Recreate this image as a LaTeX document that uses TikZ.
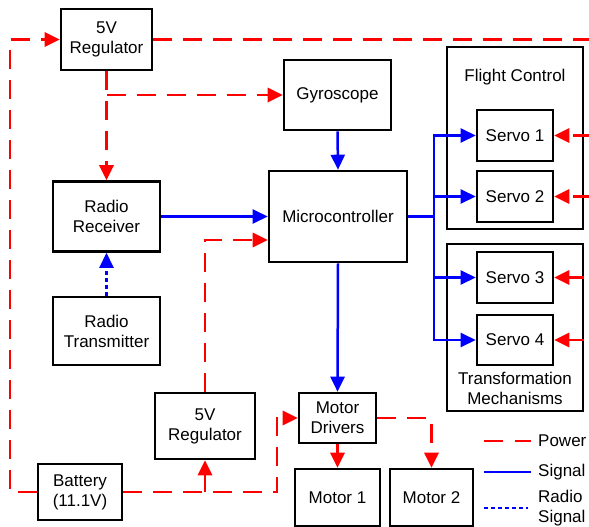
\documentclass[tikz,border=0pt]{standalone}
\usepackage{fontspec}
\setmainfont{Liberation Sans}
\usetikzlibrary{arrows.meta,calc}
\definecolor{pwred}{RGB}{255,0,0}
\definecolor{sigblue}{RGB}{0,0,255}
\tikzset{
  blk/.style={draw=black, line width=2.6pt, inner sep=0pt, align=center, font=\fontsize{17}{20}\selectfont},
  grp/.style={draw=black, line width=2.4pt, inner sep=0pt},
  lbl/.style={inner sep=0pt, align=center, font=\fontsize{17}{20}\selectfont},
  tip/.style={-{Triangle[length=15pt,width=14pt]}},
  pw/.style={draw=pwred, line width=2.8pt, dash pattern=on 19pt off 11pt},
  pws/.style={draw=pwred, line width=2.8pt},
  sig/.style={draw=sigblue, line width=2.5pt},
  rsig/.style={draw=sigblue, line width=2.6pt, dash pattern=on 4pt off 3pt},
}
\begin{document}
\begin{tikzpicture}[x=1pt,y=-1pt]
\useasboundingbox (0,0) rectangle (589,527);
% groups
\node[grp, minimum width=136pt, minimum height=182pt] (fc) at (515,138) {};
\node[grp, minimum width=136pt, minimum height=167pt] (tm) at (515,327.5) {};
\node[lbl] (fcl) at (515,77) {Flight Control};
\node[lbl] (tml) at (515,388) {Transformation\\Mechanisms};
% blocks
\node[blk, minimum width=91pt, minimum height=61pt] (reg1) at (106.5,39.5) {5V\\Regulator};
\node[blk, minimum width=107pt, minimum height=70pt] (gyro) at (337.5,95) {Gyroscope};
\node[blk, minimum width=138pt, minimum height=91pt] (micro) at (338,216.5) {Microcontroller};
\node[blk, minimum width=107pt, minimum height=70pt] (rx) at (106.5,216.5) {Radio\\Receiver};
\node[blk, minimum width=107pt, minimum height=68pt] (tx) at (106.5,331) {Radio\\Transmitter};
\node[blk, minimum width=100pt, minimum height=66pt] (reg2) at (205,426) {5V\\Regulator};
\node[blk, minimum width=84pt, minimum height=56pt] (batt) at (80,492) {Battery\\(11.1V)};
\node[blk, minimum width=77pt, minimum height=50pt] (md) at (337.5,418) {Motor\\Drivers};
\node[blk, minimum width=85pt, minimum height=57pt] (m1) at (337.5,497.5) {Motor 1};
\node[blk, minimum width=83pt, minimum height=57pt] (m2) at (431.5,497.5) {Motor 2};
\node[blk, minimum width=76pt, minimum height=51pt] (s1) at (515,135.5) {Servo 1};
\node[blk, minimum width=76pt, minimum height=51pt] (s2) at (515,196.5) {Servo 2};
\node[blk, minimum width=76pt, minimum height=51pt] (s3) at (515,277.5) {Servo 3};
\node[blk, minimum width=76pt, minimum height=50pt] (s4) at (515,340) {Servo 4};
% coordinates
\coordinate (lc) at (10,39.5);
\coordinate (topR) at (592,39.5);
\coordinate (r1) at (592,135.5);
\coordinate (r2) at (592,196.5);
\coordinate (gb) at (106.5,95);
\coordinate (mp) at ($(micro.west)+(0,23.5)$);
\coordinate (bj) at (277,418);
\coordinate (bus) at (434,216.5);
% power
\draw[pw,tip] (batt.west) -| (lc) -- (reg1.west);
\draw[pw] (reg1.east) -- (topR);
\draw[pw,tip] (reg1.south) -- (rx.north);
\draw[pw,tip] (gb) -- (gyro.west);
\draw[pw,tip] (reg2.north) |- (mp);
\draw[pw,tip] (batt.east) -| (bj) -- (md.west);
\draw[pws,tip] (reg2.south |- batt.east) -- (reg2.south);
\draw[pws,tip] (md.south) -- (m1.north);
\draw[pw,tip] (md.east) -| (m2.north);
\draw[pw,tip] (r1) -- (s1.east);
\draw[pw,tip] (r2) -- (s2.east);
\draw[pws,tip] (tm.east |- s3.east) -- (s3.east);
\draw[pws,tip] (tm.east |- s4.east) -- (s4.east);
% signal
\draw[sig,tip] (gyro.south) -- (micro.north);
\draw[sig,tip] (rx.east) -- (rx.east -| micro.west);
\draw[sig,tip] (micro.south) -- (md.north);
\draw[sig] (micro.east) -- (bus);
\draw[sig,tip] (bus) |- (s1.west);
\draw[sig,tip] (bus) |- (s2.west);
\draw[sig,tip] (bus) |- (s3.west);
\draw[sig,tip] (bus) |- (s4.west);
\draw[rsig,tip] (tx.north) -- (rx.south);
% legend
\coordinate (lp1) at (484,441); \coordinate (lp2) at (531,441);
\coordinate (ls1) at (484,472); \coordinate (ls2) at (531,472);
\coordinate (lr1) at (484,508); \coordinate (lr2) at (528,508);
\draw[pw, dash pattern=on 19pt off 12pt] (lp1) -- (lp2);
\draw[sig] (ls1) -- (ls2);
\draw[rsig] (lr1) -- (lr2);
\node[lbl, anchor=west] (tp) at (538,441) {Power};
\node[lbl, anchor=west] (ts) at (538,472) {Signal};
\node[lbl, anchor=west, align=left] (tr) at (538,508) {Radio\\Signal};
\end{tikzpicture}
\end{document}
